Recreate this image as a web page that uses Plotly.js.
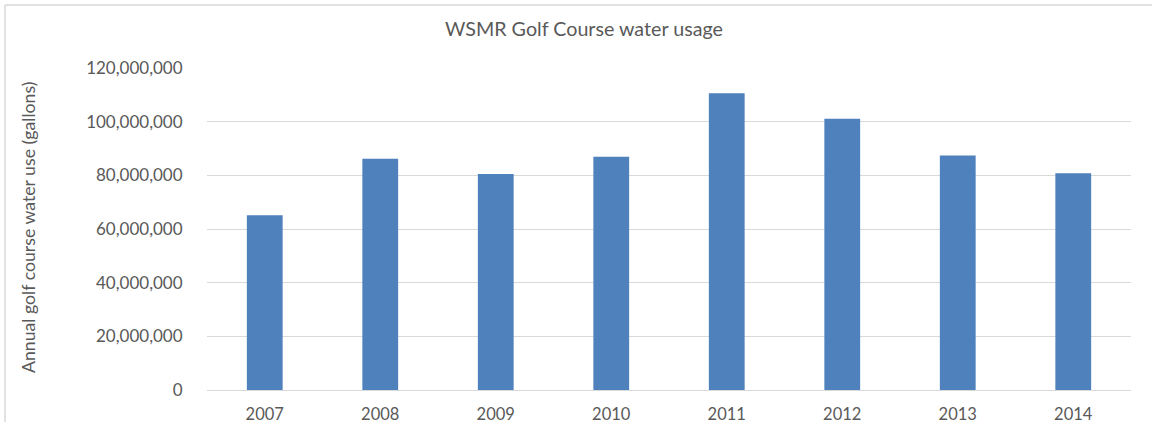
<!DOCTYPE html>
<html>
<head>
<meta charset="utf-8">
<script src="https://cdn.plot.ly/plotly-3.0.1.min.js"></script>
<style>
  html, body { margin: 0; padding: 0; background: #ffffff; }
  #chart { width: 1152px; height: 434px; }
</style>
</head>
<body>
<div id="chart"></div>
<script>
// Annual water usage of the WSMR golf course, in gallons
const years = ['2007', '2008', '2009', '2010', '2011', '2012', '2013', '2014'];
const gallons = [65100000, 86200000, 80500000, 86900000, 110600000, 101100000, 87400000, 80800000];
const yTickValues = [0, 20000000, 40000000, 60000000, 80000000, 100000000, 120000000];
const yTickLabels = ['0', '20,000,000', '40,000,000', '60,000,000', '80,000,000', '100,000,000', '120,000,000'];

const W = 1152, H = 434;
const margin = { l: 207, r: 21, t: 68, b: 44 };
const plotW = W - margin.l - margin.r;
const plotH = H - margin.t - margin.b;
// convert page pixels to paper coordinates for the frame lines and the axis caption
const px = x => (x - margin.l) / plotW;
const py = y => 1 - (y - margin.t) / plotH;

const textColor = '#595959';
const fontFamily = 'Lato, "Open Sans", sans-serif';

const trace = {
  type: 'bar',
  x: years,
  y: gallons,
  marker: { color: '#4f81bd' },
  hoverinfo: 'x+y'
};

const layout = {
  width: W,
  height: H,
  margin: margin,
  paper_bgcolor: '#ffffff',
  plot_bgcolor: '#ffffff',
  bargap: 0.69,
  showlegend: false,
  font: { family: fontFamily, color: textColor, size: 16 },
  title: {
    text: 'WSMR Golf Course water usage',
    font: { family: fontFamily, size: 19.7, color: textColor },
    x: 584 / W,
    xanchor: 'center',
    y: 1 - 29 / H,
    yanchor: 'middle'
  },
  xaxis: {
    type: 'category',
    showgrid: false,
    zeroline: false,
    showline: false,
    ticks: 'outside',
    ticklen: 9,
    tickcolor: 'rgba(0,0,0,0)',
    tickfont: { family: fontFamily, size: 16.5, color: textColor }
  },
  yaxis: {
    range: [0, 120000000],
    tickvals: yTickValues,
    ticktext: yTickLabels,
    showgrid: true,
    gridcolor: '#d9d9d9',
    gridwidth: 1,
    zeroline: true,
    zerolinecolor: '#d9d9d9',
    zerolinewidth: 1,
    showline: false,
    ticks: 'outside',
    ticklen: 20,
    tickcolor: 'rgba(0,0,0,0)',
    tickfont: { family: fontFamily, size: 17, color: textColor },
    automargin: false
  },
  annotations: [
    {
      text: 'Annual golf course water use (gallons)',
      xref: 'paper', yref: 'paper',
      x: px(28), y: py(228),
      xanchor: 'center', yanchor: 'middle',
      textangle: -90,
      showarrow: false,
      font: { family: fontFamily, size: 17.7, color: textColor }
    }
  ],
  shapes: [
    // outer chart frame: top and left edges
    { type: 'line', xref: 'paper', yref: 'paper', x0: px(5), x1: px(1152), y0: py(5), y1: py(5),
      line: { color: '#d9d9d9', width: 1.5 } },
    { type: 'line', xref: 'paper', yref: 'paper', x0: px(5), x1: px(5), y0: py(5), y1: py(422),
      line: { color: '#d9d9d9', width: 1.5 } }
  ]
};

Plotly.newPlot('chart', [trace], layout, { displayModeBar: false, staticPlot: true });
</script>
</body>
</html>
